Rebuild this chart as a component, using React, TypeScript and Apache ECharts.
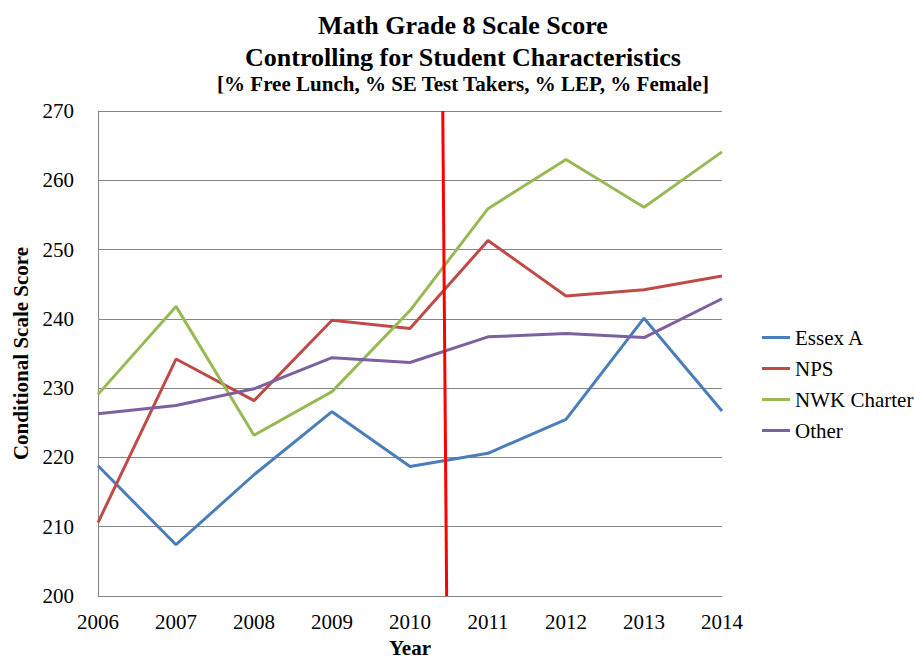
import React, { useEffect, useRef } from "react";
import * as echarts from "echarts";

const years = [2006, 2007, 2008, 2009, 2010, 2011, 2012, 2013, 2014];
const essexA = [218.8, 207.4, 217.5, 226.6, 218.7, 220.6, 225.5, 240.1, 226.7];
const nps = [210.6, 234.2, 228.2, 239.8, 238.6, 251.3, 243.3, 244.2, 246.2];
const nwkCharter = [229.1, 241.8, 223.2, 229.5, 241.2, 255.9, 263.0, 256.1, 264.1];
const other = [226.3, 227.5, 229.9, 234.4, 233.7, 237.4, 237.9, 237.3, 242.9];
const markerLine = [[2010.42, 270], [2010.47, 200]];

const FONT = "'Liberation Serif', 'Times New Roman', serif";

export default function App() {
  const ref = useRef<HTMLDivElement>(null);
  useEffect(() => {
    const chart = echarts.init(ref.current!, null, { renderer: "svg" });
    const mk = (name: string, vals: number[], color: string) => ({
      name,
      type: "line",
      data: years.map((y, i) => [y, vals[i]]),
      showSymbol: false,
      symbol: "none",
      lineStyle: { color, width: 3 },
      itemStyle: { color },
    });
    chart.setOption({
      animation: false,
      backgroundColor: "#ffffff",
      title: [
        {
          text: "Math Grade 8 Scale Score",
          left: 458,
          top: 7,
          textAlign: "center",
          textStyle: { fontFamily: FONT, fontSize: 26, fontWeight: "bold", color: "#000" },
        },
        {
          text: "Controlling for Student Characteristics",
          left: 458,
          top: 39,
          textAlign: "center",
          textStyle: { fontFamily: FONT, fontSize: 26, fontWeight: "bold", color: "#000" },
        },
        {
          text: "[% Free Lunch, % SE Test Takers, % LEP, % Female]",
          left: 458,
          top: 68,
          textAlign: "center",
          textStyle: { fontFamily: FONT, fontSize: 21, fontWeight: "bold", color: "#000" },
        },
      ],
      legend: {
        orient: "vertical",
        left: 762,
        top: 327,
        padding: 0,
        itemGap: 10,
        itemWidth: 28,
        itemHeight: 3,
        icon: "rect",
        data: ["Essex A", "NPS", "NWK Charter", "Other"],
        textStyle: { fontFamily: FONT, fontSize: 21, color: "#000", lineHeight: 21 },
      },
      grid: { left: 98, top: 111, right: 192, bottom: 62, outerBoundsMode: "none", containLabel: false },
      xAxis: {
        type: "value",
        min: 2006,
        max: 2014,
        interval: 1,
        name: "Year",
        nameLocation: "middle",
        nameGap: 41,
        nameTextStyle: { fontFamily: FONT, fontSize: 21, fontWeight: "bold", color: "#000" },
        axisLine: { show: true, lineStyle: { color: "#868686", width: 1 } },
        axisTick: { show: false },
        splitLine: { show: false },
        axisLabel: {
          fontFamily: FONT,
          fontSize: 21,
          color: "#000",
          margin: 15,
          formatter: (v: number) => String(v),
        },
      },
      yAxis: {
        type: "value",
        min: 200,
        max: 270,
        interval: 10,
        name: "Conditional Scale Score",
        nameLocation: "middle",
        nameGap: 65,
        nameTextStyle: { fontFamily: FONT, fontSize: 21, fontWeight: "bold", color: "#000" },
        axisLine: { show: true, lineStyle: { color: "#868686", width: 1 } },
        axisTick: { show: false },
        splitLine: { show: true, lineStyle: { color: "#868686", width: 1 } },
        axisLabel: { fontFamily: FONT, fontSize: 21, color: "#000", margin: 24 },
      },
      series: [
        mk("Essex A", essexA, "#4A7EBB"),
        mk("NPS", nps, "#BE4B48"),
        mk("NWK Charter", nwkCharter, "#98B954"),
        mk("Other", other, "#7D60A0"),
        {
          name: "marker",
          type: "line",
          data: markerLine,
          showSymbol: false,
          symbol: "none",
          lineStyle: { color: "#FF0000", width: 3 },
          z: 5,
        },
      ],
    });
    return () => chart.dispose();
  }, []);
  return (
    <div
      ref={ref}
      style={{ position: "absolute", left: 0, top: 0, width: 914, height: 658 }}
    />
  );
}
